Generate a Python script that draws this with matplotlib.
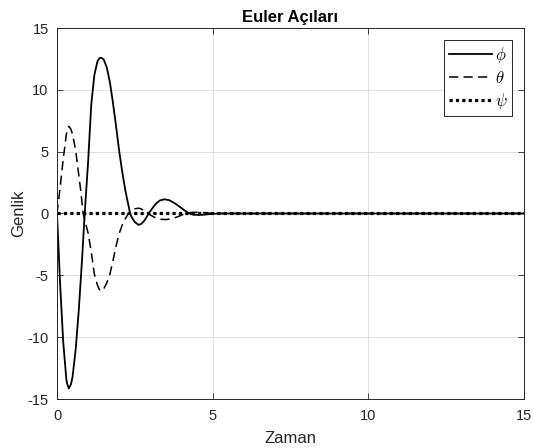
import matplotlib
matplotlib.use('agg')
import matplotlib.pyplot as plt

# Euler angle responses (time, value)
t_phi = [0.0, 0.1, 0.2, 0.3, 0.33, 0.38, 0.45, 0.5, 0.6, 0.7, 0.8, 0.89,
         1.0, 1.1, 1.2, 1.3, 1.36, 1.42, 1.5, 1.6, 1.7, 1.8, 1.9,
         2.0, 2.1, 2.2, 2.3, 2.35, 2.4, 2.5, 2.62, 2.7, 2.8, 2.9, 2.94,
         3.0, 3.1, 3.2, 3.3, 3.45, 3.6, 3.7, 3.8, 3.9,
         4.0, 4.1, 4.2, 4.3, 4.4, 4.55, 4.7, 4.85, 5.0, 5.2, 15.0]
phi = [0.0, -5.7, -10.4, -13.4, -13.8, -14.15, -13.8, -13.2, -11.0, -7.8, -3.9, 0.0,
       4.2, 8.8, 11.2, 12.3, 12.55, 12.6, 12.45, 11.8, 10.6, 8.9, 7.0,
       5.0, 3.3, 1.8, 0.6, 0.0, -0.3, -0.7, -0.92, -0.85, -0.6, -0.2, 0.0,
       0.2, 0.55, 0.85, 1.05, 1.15, 1.08, 0.95, 0.8, 0.62,
       0.43, 0.25, 0.07, -0.04, -0.1, -0.12, -0.1, -0.06, -0.03, 0.0, 0.0]

t_theta = [0.0, 0.1, 0.2, 0.3, 0.34, 0.38, 0.45, 0.5, 0.6, 0.7, 0.76, 0.84,
           0.9, 1.0, 1.1, 1.2, 1.3, 1.36, 1.42, 1.5, 1.6, 1.7, 1.8, 1.9,
           2.0, 2.1, 2.2, 2.29, 2.4, 2.5, 2.62, 2.7, 2.8, 2.93,
           3.0, 3.1, 3.2, 3.35, 3.5, 3.65, 3.8, 3.9,
           4.0, 4.13, 4.3, 4.5, 4.7, 4.9, 5.1, 15.0]
theta = [0.0, 2.1, 4.4, 6.4, 6.85, 7.05, 6.8, 6.4, 5.1, 3.1, 1.9, 0.0,
         -0.6, -1.6, -3.1, -4.9, -5.8, -6.15, -6.28, -6.1, -5.6, -4.9, -3.8, -2.6,
         -1.6, -0.9, -0.4, 0.0, 0.28, 0.38, 0.43, 0.38, 0.22, 0.0,
         -0.12, -0.27, -0.38, -0.47, -0.49, -0.44, -0.33, -0.24,
         -0.13, 0.0, 0.08, 0.1, 0.07, 0.03, 0.0, 0.0]

t_psi = [0.0, 15.0]
psi = [0.0, 0.0]

plt.rcParams['font.family'] = ['Liberation Sans', 'DejaVu Sans']
plt.rcParams['mathtext.fontset'] = 'cm'
plt.rcParams['axes.unicode_minus'] = False

fig = plt.figure(figsize=(5.33, 4.48), dpi=100)
# axes box in pixels: x 57..524, y 28..399
ax = fig.add_axes([57 / 533, 49 / 448, 467 / 533, 371 / 448])

ax.plot(t_phi, phi, color='black', linewidth=1.3, label=r'$\phi$')
ax.plot(t_theta, theta, color='black', linewidth=1.1, linestyle=(0, (6, 3.5)), label=r'$\theta$')
ax.plot(t_psi, psi, color='black', linewidth=2.3, linestyle=(0, (1, 1)), label=r'$\psi$')

ax.set_xlim(0, 15)
ax.set_ylim(-15, 15)
ax.set_xticks([0, 5, 10, 15])
ax.set_yticks([-15, -10, -5, 0, 5, 10, 15])
ax.grid(True, color='#e0e0e0', linewidth=0.7)
ax.set_axisbelow(True)
for s in ax.spines.values():
    s.set_color('#262626')
    s.set_linewidth(0.7)
ax.tick_params(direction='in', length=4, width=0.6, colors='#262626',
               labelsize=10.5, top=True, right=True)
ax.tick_params(axis='x', pad=7)
ax.tick_params(axis='y', pad=6)

ax.set_title('Euler Açıları', fontsize=12, fontweight='bold', pad=4)
ax.set_xlabel('Zaman', fontsize=12, color='#262626', labelpad=6)
ax.set_ylabel('Genlik', fontsize=12, color='#262626', labelpad=1)

leg = ax.legend(loc='upper right', fontsize=12, fancybox=False, framealpha=1,
                edgecolor='#262626', handlelength=2.6, borderaxespad=0.7,
                labelspacing=0.3, handletextpad=0.15, borderpad=0.3)
leg.get_frame().set_linewidth(0.7)

fig.savefig('out.png', dpi=100)
